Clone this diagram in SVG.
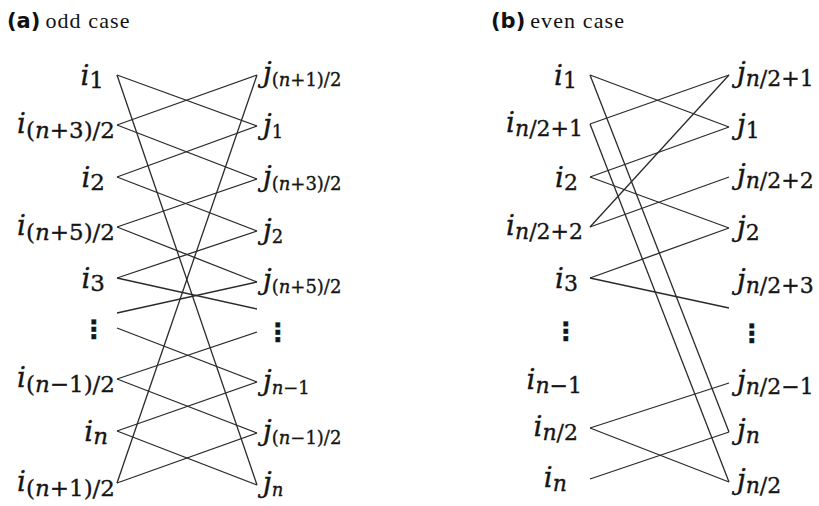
<svg xmlns="http://www.w3.org/2000/svg" width="819" height="506" viewBox="0 0 819 506">
<style>
.title-b{font-family:"DejaVu Sans",sans-serif;font-weight:bold;font-size:21px;fill:#111}
.title-t{font-family:"Liberation Serif",serif;font-size:22px;letter-spacing:1.1px;fill:#111}
.lbl{font-family:"DejaVu Serif",serif;fill:#151515;stroke:#151515;stroke-width:0.35px}
.m{font-style:italic}
.it{font-style:italic}
.la .m{font-size:28px}.la .s{font-size:23px}
.ra .m{font-size:28px}.ra .s{font-size:18px}
.lb .m{font-size:28px}.lb .s{font-size:22px}
.rb .m{font-size:28px}.rb .s{font-size:22px}
.dots{font-family:"DejaVu Sans",sans-serif;font-weight:bold;font-size:25px;fill:#151515;text-anchor:middle}
.edges line{stroke:#2a2a2a;stroke-width:1.3;fill:none}
</style>
<g id="titles">
<text x="7" y="28"><tspan class="title-b">(a)</tspan><tspan class="title-t" dx="5">odd case</tspan></text>
<text x="491" y="28"><tspan class="title-b">(b)</tspan><tspan class="title-t" dx="5">even case</tspan></text>
</g>
<g id="edges-a" class="edges">
<line x1="117" y1="75" x2="257" y2="126"/>
<line x1="117" y1="125" x2="257" y2="179"/>
<line x1="117" y1="177" x2="257" y2="231"/>
<line x1="117" y1="227" x2="257" y2="282"/>
<line x1="117" y1="278" x2="257" y2="309"/>
<line x1="117" y1="328" x2="257" y2="382"/>
<line x1="117" y1="379" x2="257" y2="433"/>
<line x1="117" y1="431" x2="257" y2="485"/>
<line x1="257" y1="75" x2="117" y2="125"/>
<line x1="257" y1="126" x2="117" y2="177"/>
<line x1="257" y1="179" x2="117" y2="227"/>
<line x1="257" y1="231" x2="117" y2="278"/>
<line x1="257" y1="282" x2="117" y2="313"/>
<line x1="257" y1="332" x2="117" y2="379"/>
<line x1="257" y1="382" x2="117" y2="431"/>
<line x1="257" y1="433" x2="117" y2="483"/>
<line x1="117" y1="75" x2="257" y2="485"/>
<line x1="257" y1="75" x2="117" y2="483"/>
</g>
<g id="edges-b" class="edges">
<line x1="590" y1="75" x2="729" y2="127"/>
<line x1="590" y1="75" x2="729" y2="432"/>
<line x1="590" y1="124" x2="729" y2="75"/>
<line x1="590" y1="124" x2="729" y2="482"/>
<line x1="590" y1="177" x2="729" y2="127"/>
<line x1="590" y1="177" x2="729" y2="228"/>
<line x1="590" y1="227" x2="729" y2="75"/>
<line x1="590" y1="227" x2="729" y2="177"/>
<line x1="590" y1="278" x2="729" y2="228"/>
<line x1="590" y1="278" x2="729" y2="308"/>
<line x1="590" y1="428" x2="729" y2="383"/>
<line x1="590" y1="428" x2="729" y2="482"/>
<line x1="590" y1="479" x2="729" y2="432"/>
</g>
<g id="nodes-a-left" class="lbl la" text-anchor="end">
<g id="a-i1"><text x="104" y="85"><tspan class="m">i</tspan><tspan class="s" dy="3">1</tspan></text></g>
<g id="a-in3"><text x="115" y="133"><tspan class="m">i</tspan><tspan class="s" dy="5">(<tspan class="it">n</tspan>+3)/2</tspan></text></g>
<g id="a-i2"><text x="105" y="187"><tspan class="m">i</tspan><tspan class="s" dy="3">2</tspan></text></g>
<g id="a-in5"><text x="115" y="235"><tspan class="m">i</tspan><tspan class="s" dy="5">(<tspan class="it">n</tspan>+5)/2</tspan></text></g>
<g id="a-i3"><text x="105" y="288"><tspan class="m">i</tspan><tspan class="s" dy="3">3</tspan></text></g>
<g id="a-ldots"><text class="dots" x="94" y="338">⋮</text></g>
<g id="a-inm1"><text x="115" y="387"><tspan class="m">i</tspan><tspan class="s" dy="5">(<tspan class="it">n</tspan>−1)/2</tspan></text></g>
<g id="a-in"><text x="108" y="441"><tspan class="m">i</tspan><tspan class="s" dy="3" font-style="italic">n</tspan></text></g>
<g id="a-in1"><text x="115" y="491"><tspan class="m">i</tspan><tspan class="s" dy="5">(<tspan class="it">n</tspan>+1)/2</tspan></text></g>
</g>
<g id="nodes-a-right" class="lbl ra">
<g id="a-jn1"><text x="263" y="82"><tspan class="m">j</tspan><tspan class="s" dy="4">(<tspan class="it">n</tspan>+1)/2</tspan></text></g>
<g id="a-j1"><text x="263" y="134"><tspan class="m">j</tspan><tspan class="s" dy="4">1</tspan></text></g>
<g id="a-jn3"><text x="263" y="186"><tspan class="m">j</tspan><tspan class="s" dy="4">(<tspan class="it">n</tspan>+3)/2</tspan></text></g>
<g id="a-j2"><text x="263" y="239"><tspan class="m">j</tspan><tspan class="s" dy="4">2</tspan></text></g>
<g id="a-jn5"><text x="263" y="289"><tspan class="m">j</tspan><tspan class="s" dy="4">(<tspan class="it">n</tspan>+5)/2</tspan></text></g>
<g id="a-rdots"><text class="dots" x="278" y="341">⋮</text></g>
<g id="a-jnm1"><text x="263" y="390"><tspan class="m">j</tspan><tspan class="s" dy="4"><tspan class="it">n</tspan>−1</tspan></text></g>
<g id="a-jnm1h"><text x="263" y="440"><tspan class="m">j</tspan><tspan class="s" dy="4">(<tspan class="it">n</tspan>−1)/2</tspan></text></g>
<g id="a-jn"><text x="263" y="492"><tspan class="m">j</tspan><tspan class="s" dy="4" font-style="italic">n</tspan></text></g>
</g>
<g id="nodes-b-left" class="lbl lb" text-anchor="end">
<g id="b-i1"><text x="577" y="85"><tspan class="m">i</tspan><tspan class="s" dy="3">1</tspan></text></g>
<g id="b-ih1"><text x="583" y="132"><tspan class="m">i</tspan><tspan class="s" dy="4"><tspan class="it">n</tspan>/2+1</tspan></text></g>
<g id="b-i2"><text x="578" y="187"><tspan class="m">i</tspan><tspan class="s" dy="3">2</tspan></text></g>
<g id="b-ih2"><text x="583" y="235"><tspan class="m">i</tspan><tspan class="s" dy="4"><tspan class="it">n</tspan>/2+2</tspan></text></g>
<g id="b-i3"><text x="578" y="288"><tspan class="m">i</tspan><tspan class="s" dy="3">3</tspan></text></g>
<g id="b-ldots"><text class="dots" x="566" y="340">⋮</text></g>
<g id="b-inm1"><text x="582" y="389"><tspan class="m">i</tspan><tspan class="s" dy="4"><tspan class="it">n</tspan>−1</tspan></text></g>
<g id="b-ih"><text x="578" y="436"><tspan class="m">i</tspan><tspan class="s" dy="4"><tspan class="it">n</tspan>/2</tspan></text></g>
<g id="b-in"><text x="567" y="487"><tspan class="m">i</tspan><tspan class="s" dy="4" font-style="italic">n</tspan></text></g>
</g>
<g id="nodes-b-right" class="lbl rb">
<g id="b-jh1"><text x="737" y="82"><tspan class="m">j</tspan><tspan class="s" dy="4"><tspan class="it">n</tspan>/2+1</tspan></text></g>
<g id="b-j1"><text x="737" y="134"><tspan class="m">j</tspan><tspan class="s" dy="4">1</tspan></text></g>
<g id="b-jh2"><text x="737" y="184"><tspan class="m">j</tspan><tspan class="s" dy="4"><tspan class="it">n</tspan>/2+2</tspan></text></g>
<g id="b-j2"><text x="737" y="236"><tspan class="m">j</tspan><tspan class="s" dy="4">2</tspan></text></g>
<g id="b-jh3"><text x="737" y="289"><tspan class="m">j</tspan><tspan class="s" dy="4"><tspan class="it">n</tspan>/2+3</tspan></text></g>
<g id="b-rdots"><text class="dots" x="752" y="342">⋮</text></g>
<g id="b-jhm1"><text x="737" y="390"><tspan class="m">j</tspan><tspan class="s" dy="4"><tspan class="it">n</tspan>/2−1</tspan></text></g>
<g id="b-jn"><text x="737" y="439"><tspan class="m">j</tspan><tspan class="s" dy="4" font-style="italic">n</tspan></text></g>
<g id="b-jh"><text x="737" y="489"><tspan class="m">j</tspan><tspan class="s" dy="4"><tspan class="it">n</tspan>/2</tspan></text></g>
</g>
</svg>
